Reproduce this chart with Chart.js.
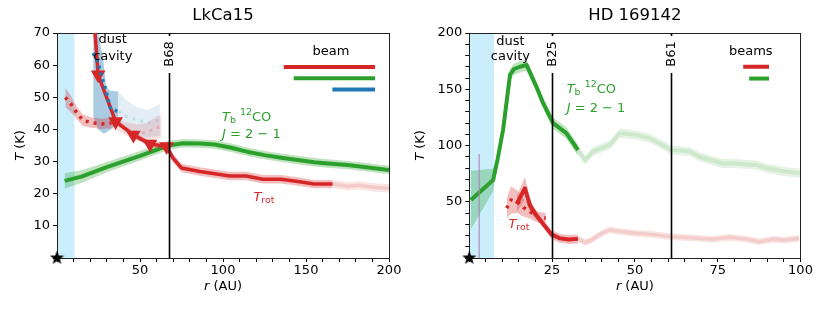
<!DOCTYPE html>
<html>
<head>
<meta charset="utf-8">
<script src="https://cdn.jsdelivr.net/npm/chart.js@4.4.1/dist/chart.umd.min.js"></script>
<style>
  html, body { margin: 0; padding: 0; background: #fff; }
  #wrap { position: relative; width: 830px; height: 311px; }
  .panel { position: absolute; top: 0; height: 311px; }
</style>
</head>
<body>
<div id="wrap">
  <div class="panel" style="left:0;width:412px"><canvas id="lk"></canvas></div>
  <div class="panel" style="left:412px;width:418px"><canvas id="hd"></canvas></div>
</div>
<script>
const FONT = '"DejaVu Sans", sans-serif';
const RED = "#d62728", GREEN = "#2ca02c", BLUE = "#1f77b4";
const CAVITY_COLOR = "#caeefc";

// ---- LkCa15 ----
const lkTbR = [4.6, 14.7, 30, 50, 67, 76, 86, 95, 105, 115, 125, 135, 145, 155, 163, 175, 185, 200];
const lkTbT = [24, 25.3, 28.3, 31.8, 35, 35.7, 35.6, 35.3, 34.3, 33, 32, 31.2, 30.5, 29.8, 29.4, 28.9, 28.3, 27.4];
const lkTbErr = [2.4, 2, 1.6, 1.5, 1.4, 1.3, 1.3, 1.3, 1.3, 1.3, 1.3, 1.3, 1.3, 1.3, 1.3, 1.3, 1.3, 1.3];

const lkRotR = [21.5, 24.8, 35.3, 46, 56, 66, 70, 75, 86, 95, 104, 114, 124, 135, 145, 155, 166];
const lkRotT = [80, 57, 42.5, 38.3, 35.5, 34.7, 31, 28, 26.9, 26.2, 25.5, 25.5, 24.5, 24.5, 23.8, 23, 23];
const lkRotErr = [0.8, 0.8, 0.8, 0.8, 1, 1.2, 1.3, 1.3, 1.3, 1.3, 1.3, 1.3, 1.3, 1.3, 1.3, 1.3, 1.3];
const lkRotMarker = [0, 1, 1, 1, 1, 1, 0, 0, 0, 0, 0, 0, 0, 0, 0, 0, 0];
const lkRotFadeR = [166, 175, 182, 190, 200];
const lkRotFadeT = [23, 22.3, 22.6, 22.0, 21.7];
const lkRotFadeErr = [1.3, 1.3, 1.3, 1.3, 1.3];

const lkRatR = [5, 8.7, 11.7, 15.7, 21, 26.8, 32.9];
const lkRatT = [50, 47.7, 45.3, 42.8, 42.1, 41.7, 42];
const lkRatErr = [3, 2.5, 2, 1.8, 1.6, 1.6, 1.6];
const lkRatFadeR = [32.9, 40, 48, 54, 60, 63];
const lkRatFadeT = [42, 40.5, 39, 39, 40.5, 41];
const lkRatFadeErr = [1.6, 2, 2.5, 3, 3.5, 3.5];

const lkBlueR = [21.8, 24.8, 27.8, 29.4, 30.8, 32.4, 36.9];
const lkBlueT = [63.8, 60.6, 55, 52.3, 49.2, 46.3, 45.6];
const lkBlueHi = [70, 70, 62, 54, 52.5, 52, 51.8];
const lkBlueLo = [44, 40, 38.8, 39, 39.5, 40, 42];
const lkBlueFadeR = [36.9, 42, 48, 55, 62];
const lkBlueFadeT = [45.6, 44, 43, 42, 43];
const lkBlueFadeHi = [51.8, 49, 47, 46, 48];
const lkBlueFadeLo = [42, 39.5, 38, 37.5, 38];

const lkRingR = [67.5];
const lkRingLabels = ["B68"];
const lkCavity = 10.5;
const lkBeamAU = [55, 49, 25.7];
const lkBeamT = [59.4, 55.9, 52.4];
const lkBeamColors = [RED, GREEN, BLUE];

// ---- HD 169142 ----
const hdTbR = [0.5, 7.2, 8.5, 10.2, 12.3, 13.5, 15.3, 17.3, 20.3, 22.3, 25.3, 29.3, 32.8];
const hdTbT = [51.6, 69.4, 87, 114, 163, 168, 170, 171.5, 152, 137.6, 119.8, 111, 96];
const hdTbErr = [26, 10, 6, 5, 5, 5, 5, 5, 5, 5, 5, 5, 5];
const hdTbFadeR = [32.8, 35, 37.3, 42.4, 45.4, 50.4, 54.4, 57.4, 61, 66.5, 69.5, 76.5, 80, 86.6, 89.6, 95, 100];
const hdTbFadeT = [96, 87, 94.6, 100.5, 111, 109.4, 106.5, 102, 96, 94.6, 90, 84, 84, 82.7, 79.8, 77, 75.4];
const hdTbFadeErr = [4, 4, 4, 4, 4, 4, 4, 4, 4, 4, 4, 4, 4, 4, 4, 4, 4];

const hdRotR = [14.3, 16.8, 18.3, 19.8, 21.3, 24.8, 27.3, 30, 32.8];
const hdRotT = [48, 62, 47, 39.7, 34, 21, 17.5, 16.5, 17];
const hdRotErr = [7, 10, 6, 4, 3, 4, 4, 4, 4];
const hdRatR = [11.3, 12.6, 14.5, 16.3, 18.3, 20.8, 23.1];
const hdRatT = [44.2, 51.6, 50, 45, 41.2, 36.2, 35.5];
const hdRatErr = [9, 12, 10, 8, 6, 5, 4.5];
const hdRotFadeR = [32.8, 35, 36.9, 40, 42.4, 44.4, 50.4, 55, 60.5, 67, 73.5, 78.5, 83, 87.6, 91.6, 95, 99.6];
const hdRotFadeT = [17, 14, 16, 22, 25, 24, 22, 21, 19, 18, 16.6, 18.4, 17, 14.5, 16.6, 16, 17.5];
const hdRotFadeErr = [3, 3, 3, 3, 3, 3, 3, 3, 3, 3, 3, 3, 3, 3, 3, 3, 3];

const hdBeamMarkR = [3, 3];
const hdBeamMarkT = [0, 92.5];

const hdRingR = [25, 61];
const hdRingLabels = ["B25", "B61"];
const hdCavity = 7.5;
const hdBeamAU = [7.8, 6];
const hdBeamT = [170, 159.5];
const hdBeamColors = [RED, GREEN];

// ---- helpers ----
const pts = (r, t) => r.map((v, i) => ({ x: v, y: t[i] }));
const shift = (t, e, s) => t.map((v, i) => v + s * e[i]);

function starImage(size) {
    const c = document.createElement("canvas");
    c.width = c.height = size;
    const g = c.getContext("2d");
    g.beginPath();
    for (let i = 0; i < 10; i++) {
        const a = -Math.PI / 2 + (i * Math.PI) / 5;
        const rr = i % 2 ? size * 0.2 : size * 0.5;
        g.lineTo(size / 2 + rr * Math.cos(a), size / 2 + rr * Math.sin(a));
    }
    g.closePath();
    g.fillStyle = "#000";
    g.fill();
    return c;
}
const STAR = starImage(15);

function band(list, r, hi, lo, color) {
    list.push({ data: pts(r, hi), borderWidth: 0, pointRadius: 0, fill: "+1", backgroundColor: color, borderColor: "transparent" });
    list.push({ data: pts(r, lo), borderWidth: 0, pointRadius: 0, fill: false, borderColor: "transparent" });
}
function line(list, r, t, opts) {
    list.push(Object.assign({ data: pts(r, t), pointRadius: 0, fill: false, borderCapStyle: "butt", borderJoinStyle: "round" }, opts));
}
function starSet(list) {
    list.push({ data: [{ x: 0, y: 0 }], pointStyle: STAR, pointRadius: 7, showLine: false, clip: false });
}
function finish(list) {
    list.forEach((d, i) => { d.order = list.length - i; d.tension = 0; });
    return list;
}

function rich(ctx, parts, x, y, align, size) {
    let w = 0;
    const fnt = (p) => (p.it ? "italic " : "") + (size * (p.sz || 1)).toFixed(1) + "px " + FONT;
    parts.forEach((p) => { ctx.font = fnt(p); p.w = ctx.measureText(p.t).width; w += p.w; });
    let cx = align === "center" ? x - w / 2 : x;
    ctx.textAlign = "left";
    ctx.textBaseline = "middle";
    parts.forEach((p) => { ctx.font = fnt(p); ctx.fillText(p.t, cx, y + (p.dy || 0)); cx += p.w; });
}

function decoPlugin(cfg) {
    return {
        id: "deco",
        beforeDatasetsDraw(chart) {
            const { ctx, chartArea: a, scales: { x } } = chart;
            ctx.save();
            ctx.fillStyle = CAVITY_COLOR;
            ctx.fillRect(a.left, a.top, x.getPixelForValue(cfg.cavity) - a.left, a.bottom - a.top);
            ctx.strokeStyle = "#222";
            ctx.lineWidth = 1;
            ctx.strokeRect(Math.round(a.left) + 0.5, Math.round(a.top) + 0.5, Math.round(a.right - a.left), Math.round(a.bottom - a.top));
            ctx.restore();
        },
        afterDatasetsDraw(chart) {
            const { ctx, chartArea: a, scales: { x, y } } = chart;
            ctx.save();
            ctx.fillStyle = "#000";
            // ring lines with labels
            cfg.rings.forEach((r, i) => {
                const px = Math.round(x.getPixelForValue(r)) + 0.5;
                ctx.strokeStyle = "#000";
                ctx.lineWidth = 1.6;
                ctx.beginPath();
                ctx.moveTo(px, a.bottom);
                ctx.lineTo(px, a.top);
                ctx.stroke();
                ctx.fillStyle = "#fff";
                ctx.fillRect(px - 8, a.top + 3, 16, 37);
                ctx.fillStyle = "#000";
                ctx.save();
                ctx.translate(px, a.top + 21);
                ctx.rotate(-Math.PI / 2);
                ctx.font = "13px " + FONT;
                ctx.textAlign = "center";
                ctx.textBaseline = "middle";
                ctx.fillText(cfg.ringLabels[i], 0, 0);
                ctx.restore();
            });
            // beams
            ctx.lineWidth = 4;
            cfg.beamAU.forEach((w, i) => {
                const yy = y.getPixelForValue(cfg.beamT[i]);
                ctx.strokeStyle = cfg.beamColors[i];
                ctx.beginPath();
                ctx.moveTo(x.getPixelForValue(cfg.beamEnd - w), yy);
                ctx.lineTo(x.getPixelForValue(cfg.beamEnd), yy);
                ctx.stroke();
            });
            ctx.fillStyle = "#000";
            rich(ctx, [{ t: cfg.beamWord }], x.getPixelForValue(cfg.beamTextR), y.getPixelForValue(cfg.beamTextT), "center", 13);
            rich(ctx, [{ t: "dust" }], x.getPixelForValue(cfg.dustR), y.getPixelForValue(cfg.dustT[0]), "center", 13);
            rich(ctx, [{ t: "cavity" }], x.getPixelForValue(cfg.dustR), y.getPixelForValue(cfg.dustT[1]), "center", 13);
            ctx.fillStyle = GREEN;
            rich(ctx, [{ t: "T", it: 1 }, { t: "b", sz: 0.72, dy: 3 }, { t: " " }, { t: "12", sz: 0.72, dy: -5 }, { t: "CO" }],
                x.getPixelForValue(cfg.tbR), y.getPixelForValue(cfg.tbT[0]), "left", 13);
            rich(ctx, [{ t: "J", it: 1 }, { t: " = 2 \u2212 1" }], x.getPixelForValue(cfg.tbR), y.getPixelForValue(cfg.tbT[1]), "left", 13);
            ctx.fillStyle = RED;
            rich(ctx, [{ t: "T", it: 1 }, { t: "rot", sz: 0.72, dy: 3 }], x.getPixelForValue(cfg.rotR), y.getPixelForValue(cfg.rotT), "left", 13);
            // title and axis titles
            ctx.fillStyle = "#000";
            const cx = (a.left + a.right) / 2;
            rich(ctx, [{ t: cfg.title }], cx, 16, "center", 16.5);
            rich(ctx, [{ t: "r", it: 1 }, { t: " (AU)" }], cx, 287, "center", 13);
            ctx.save();
            ctx.translate(cfg.yTitleX, (a.top + a.bottom) / 2);
            ctx.rotate(-Math.PI / 2);
            rich(ctx, [{ t: "T", it: 1 }, { t: " (K)" }], 0, 0, "center", 13);
            ctx.restore();
            ctx.restore();
        },
    };
}

function makeChart(id, datasets, xmax, xstep, xmajor, ymax, ystep, ymajor, leftW, rightPad, plugin) {
    const tickFont = { family: FONT, size: 13 };
    return new Chart(document.getElementById(id), {
        type: "line",
        data: { datasets },
        options: {
            responsive: true,
            maintainAspectRatio: false,
            animation: false,
            devicePixelRatio: 1,
            layout: { padding: { top: 33, right: rightPad, bottom: 0, left: 0 } },
            plugins: { legend: { display: false }, tooltip: { enabled: false } },
            scales: {
                x: {
                    type: "linear", min: 0, max: xmax,
                    ticks: { stepSize: xstep, autoSkip: false, maxRotation: 0, color: "#000", font: tickFont, padding: 1,
                        callback: (v) => (v > 0 && v % xmajor === 0 ? v : "") },
                    grid: { drawOnChartArea: false, drawTicks: true, tickLength: 4, color: "#000" },
                    border: { display: false },
                    afterFit: (s) => { s.height = 53; },
                },
                y: {
                    type: "linear", min: 0, max: ymax,
                    ticks: { stepSize: ystep, autoSkip: false, color: "#000", font: tickFont, padding: 3,
                        callback: (v) => (v > 0 && v % ymajor === 0 ? v : "") },
                    grid: { drawOnChartArea: false, drawTicks: true, tickLength: 4, color: "#000" },
                    border: { display: false },
                    afterFit: (s) => { s.width = leftW; },
                },
            },
        },
        plugins: [plugin],
    });
}

// ---- LkCa15 datasets ----
const lk = [];
band(lk, lkBlueFadeR, lkBlueFadeHi, lkBlueFadeLo, "rgba(31,119,180,0.13)");
line(lk, lkBlueFadeR, lkBlueFadeT, { borderColor: "rgba(31,119,180,0.15)", borderWidth: 3, borderDash: [3, 5] });
band(lk, lkBlueR, lkBlueHi, lkBlueLo, "rgba(31,119,180,0.38)");
band(lk, lkRatFadeR, shift(lkRatFadeT, lkRatFadeErr, 1), shift(lkRatFadeT, lkRatFadeErr, -1), "rgba(214,39,40,0.14)");
line(lk, lkRatFadeR, lkRatFadeT, { borderColor: "rgba(214,39,40,0.18)", borderWidth: 3, borderDash: [3, 5] });
band(lk, lkRatR, shift(lkRatT, lkRatErr, 1), shift(lkRatT, lkRatErr, -1), "rgba(214,39,40,0.3)");
line(lk, lkRatR, lkRatT, { borderColor: RED, borderWidth: 3.5, borderDash: [3, 5] });
band(lk, lkTbR, shift(lkTbT, lkTbErr, 1), shift(lkTbT, lkTbErr, -1), "rgba(44,160,44,0.3)");
line(lk, lkTbR, lkTbT, { borderColor: GREEN, borderWidth: 4 });
band(lk, lkRotFadeR, shift(lkRotFadeT, lkRotFadeErr, 1), shift(lkRotFadeT, lkRotFadeErr, -1), "rgba(214,39,40,0.12)");
line(lk, lkRotFadeR, lkRotFadeT, { borderColor: "rgba(214,39,40,0.15)", borderWidth: 3.5 });
band(lk, lkRotR, shift(lkRotT, lkRotErr, 1), shift(lkRotT, lkRotErr, -1), "rgba(214,39,40,0.3)");
line(lk, lkRotR, lkRotT, { borderColor: RED, borderWidth: 3.5, pointStyle: "triangle", rotation: 180,
    pointRadius: lkRotMarker.map((m) => (m ? 5 : 0)), pointBackgroundColor: RED, pointBorderColor: RED });
line(lk, lkBlueR, lkBlueT, { borderColor: BLUE, borderWidth: 3.5, borderDash: [3, 4] });
starSet(lk);

makeChart("lk", finish(lk), 200, 10, 50, 70, 10, 10, 57, 23,
    decoPlugin({
        title: "LkCa15", cavity: lkCavity, rings: lkRingR, ringLabels: lkRingLabels,
        beamAU: lkBeamAU, beamT: lkBeamT, beamColors: lkBeamColors, beamEnd: 191.6,
        beamWord: "beam", beamTextR: 165, beamTextT: 64.3,
        dustR: 33.6, dustT: [67.8, 62.8], tbR: 99.4, tbT: [43.6, 38.4], rotR: 118.3, rotT: 18.7, yTitleX: 20.5,
    }));

// ---- HD 169142 datasets ----
const hd = [];
band(hd, hdTbFadeR, shift(hdTbFadeT, hdTbFadeErr, 1), shift(hdTbFadeT, hdTbFadeErr, -1), "rgba(44,160,44,0.12)");
line(hd, hdTbFadeR, hdTbFadeT, { borderColor: "rgba(44,160,44,0.13)", borderWidth: 4 });
band(hd, hdRotFadeR, shift(hdRotFadeT, hdRotFadeErr, 1), shift(hdRotFadeT, hdRotFadeErr, -1), "rgba(214,39,40,0.12)");
line(hd, hdRotFadeR, hdRotFadeT, { borderColor: "rgba(214,39,40,0.13)", borderWidth: 3.5 });
band(hd, hdTbR, shift(hdTbT, hdTbErr, 1), shift(hdTbT, hdTbErr, -1), "rgba(44,160,44,0.3)");
line(hd, hdTbR, hdTbT, { borderColor: GREEN, borderWidth: 4 });
line(hd, hdBeamMarkR, hdBeamMarkT, { borderColor: "rgba(170,130,180,0.7)", borderWidth: 1.5 });
band(hd, hdRatR, shift(hdRatT, hdRatErr, 1), shift(hdRatT, hdRatErr, -1), "rgba(214,39,40,0.3)");
line(hd, hdRatR, hdRatT, { borderColor: RED, borderWidth: 3.5, borderDash: [3, 5] });
band(hd, hdRotR, shift(hdRotT, hdRotErr, 1), shift(hdRotT, hdRotErr, -1), "rgba(214,39,40,0.3)");
line(hd, hdRotR, hdRotT, { borderColor: RED, borderWidth: 4 });
starSet(hd);

makeChart("hd", finish(hd), 100, 5, 25, 200, 10, 50, 57.3, 29.5,
    decoPlugin({
        title: "HD 169142", cavity: hdCavity, rings: hdRingR, ringLabels: hdRingLabels,
        beamAU: hdBeamAU, beamT: hdBeamT, beamColors: hdBeamColors, beamEnd: 90.5,
        beamWord: "beams", beamTextR: 85, beamTextT: 183.4,
        dustR: 12.4, dustT: [192.7, 178.6], tbR: 29.4, tbT: [149.5, 133.2], rotR: 11.8, rotT: 29.4, yTitleX: 9,
    }));
</script>
</body>
</html>
